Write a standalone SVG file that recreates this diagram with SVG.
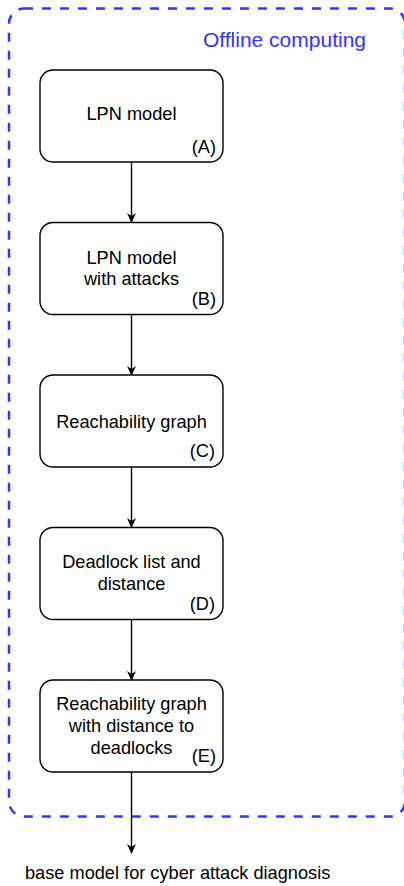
<svg xmlns="http://www.w3.org/2000/svg" width="404" height="886" viewBox="0 0 404 886">
<style>
.box{fill:#fff;stroke:#000;stroke-width:1.4}
.t{font-family:"Liberation Sans",Arial,sans-serif;font-size:18.2px;fill:#000}
.c{text-anchor:middle}
.e{text-anchor:end}
.edge{stroke:#000;stroke-width:1.4;fill:none}
</style>
<defs>
<marker id="ah" viewBox="0 0 10 10" refX="9" refY="5" markerWidth="10" markerHeight="10" markerUnits="userSpaceOnUse" orient="auto">
<path d="M0,0.5 L10,5 L0,9.5 L3,5 Z" fill="#000"/>
</marker>
</defs>
<g id="container">
<rect x="9" y="8.5" width="396" height="808" rx="15" fill="none" stroke="#3333ff" stroke-width="2.5" stroke-dasharray="9,9"/>
<text x="366" y="47" text-anchor="end" font-family="Liberation Sans,Arial,sans-serif" font-size="21" fill="#3333ff">Offline computing</text>
</g>
<g id="connectors">
<line class="edge" x1="131.5" y1="162" x2="131.5" y2="222" marker-end="url(#ah)"/>
<line class="edge" x1="131.5" y1="314" x2="131.5" y2="375" marker-end="url(#ah)"/>
<line class="edge" x1="131.5" y1="467" x2="131.5" y2="527" marker-end="url(#ah)"/>
<line class="edge" x1="131.5" y1="619" x2="131.5" y2="680" marker-end="url(#ah)"/>
<line class="edge" x1="131.5" y1="772" x2="131.5" y2="853" marker-end="url(#ah)"/>
</g>
<g id="A">
<rect class="box" x="40" y="70" width="183" height="92" rx="13"/>
<text class="t c" x="131.5" y="120">LPN model</text>
<text class="t e" x="216" y="153">(A)</text>
</g>
<g id="B">
<rect class="box" x="40" y="222.5" width="183" height="92" rx="13"/>
<text class="t c" x="131.5" y="264">LPN model</text>
<text class="t c" x="131.5" y="285">with attacks</text>
<text class="t e" x="216" y="305">(B)</text>
</g>
<g id="C">
<rect class="box" x="40" y="375" width="183" height="92" rx="13"/>
<text class="t c" x="131.5" y="428">Reachability graph</text>
<text class="t e" x="215" y="457">(C)</text>
</g>
<g id="D">
<rect class="box" x="40" y="527.5" width="183" height="92" rx="13"/>
<text class="t c" x="131.5" y="568">Deadlock list and</text>
<text class="t c" x="131.5" y="590">distance</text>
<text class="t e" x="215" y="610">(D)</text>
</g>
<g id="E">
<rect class="box" x="40" y="680" width="183" height="92" rx="13"/>
<text class="t c" x="131.5" y="710">Reachability graph</text>
<text class="t c" x="131.5" y="732">with distance to</text>
<text class="t c" x="131.5" y="754">deadlocks</text>
<text class="t e" x="216" y="762">(E)</text>
</g>
<g id="output">
<text class="t" x="25" y="879">base model for cyber attack diagnosis</text>
</g>
</svg>
